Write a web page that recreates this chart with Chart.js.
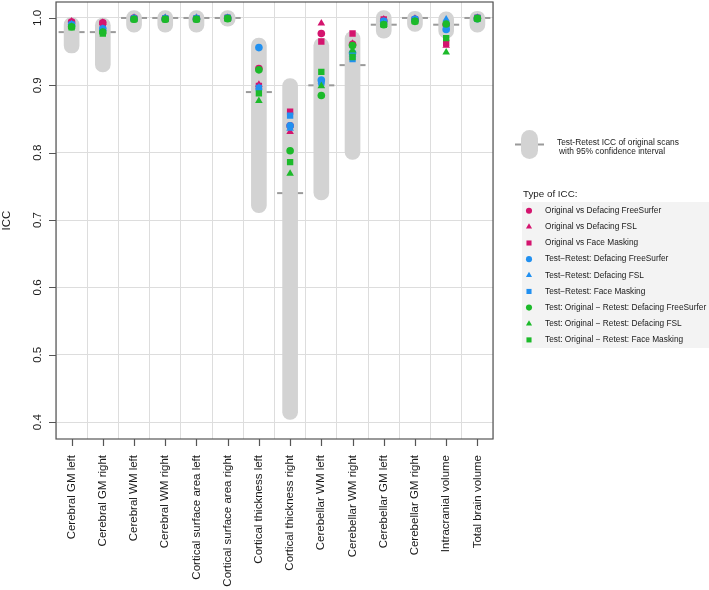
<!DOCTYPE html>
<html>
<head>
<meta charset="utf-8">
<script src="https://cdn.jsdelivr.net/npm/chart.js@4.4.1/dist/chart.umd.min.js"></script>
<style>
  html, body { margin: 0; padding: 0; background: #fff; }
  #wrap { width: 709px; height: 590px; }
</style>
</head>
<body>
<div id="wrap"><canvas id="chart" width="709" height="590"></canvas></div>
<script>
const categories = [
	"Cerebral GM left", "Cerebral GM right", "Cerebral WM left", "Cerebral WM right",
	"Cortical surface area left", "Cortical surface area right", "Cortical thickness left",
	"Cortical thickness right", "Cerebellar WM left", "Cerebellar WM right",
	"Cerebellar GM left", "Cerebellar GM right", "Intracranial volume", "Total brain volume",
];

// test-retest ICC of original scans and its 95% CI
const retestIcc = [0.979, 0.979, 1.0, 1.0, 1.0, 1.0, 0.890, 0.740, 0.900, 0.930, 0.990, 1.0, 0.990, 1.0];
const ciLow = [0.959, 0.931, 0.990, 0.990, 0.990, 0.999, 0.722, 0.415, 0.741, 0.801, 0.981, 0.991, 0.981, 0.990];
const ciHigh = [0.990, 0.989, 1.000, 1.000, 1.000, 1.000, 0.959, 0.899, 0.959, 0.969, 1.000, 0.999, 0.998, 0.999];

const origDefFS = [0.994, 0.993, 1.0, 0.999, 0.999, 1.0, 0.925, 0.840, 0.977, 0.961, 0.996, 0.998, 0.990, 1.0];
const origDefFSL = [0.995, 0.993, 1.0, 1.0, 1.0, 1.0, 0.901, 0.831, 0.992, 0.962, 0.998, 0.999, 0.959, 1.0];
const origMask = [0.993, 0.992, 0.999, 0.999, 0.999, 1.0, 0.899, 0.861, 0.965, 0.977, 0.998, 0.998, 0.963, 1.0];
const trDefFS = [0.990, 0.984, 0.999, 0.999, 0.999, 1.0, 0.956, 0.840, 0.908, 0.948, 0.995, 0.998, 0.983, 0.999];
const trDefFSL = [0.991, 0.984, 1.0, 1.0, 1.0, 1.0, 0.897, 0.836, 0.906, 0.946, 0.995, 0.998, 0.998, 1.0];
const trMask = [0.990, 0.983, 0.999, 0.999, 0.999, 1.0, 0.896, 0.855, 0.904, 0.939, 0.995, 0.998, 0.988, 1.0];
const crossDefFS = [0.987, 0.979, 0.998, 0.998, 0.998, 0.999, 0.923, 0.803, 0.885, 0.959, 0.990, 0.995, 0.991, 0.999];
const crossDefFSL = [0.987, 0.979, 0.998, 0.998, 0.998, 0.999, 0.877, 0.769, 0.899, 0.952, 0.990, 0.995, 0.949, 0.999];
const crossMask = [0.986, 0.977, 0.998, 0.998, 0.998, 0.999, 0.888, 0.786, 0.920, 0.942, 0.990, 0.995, 0.970, 0.999];

const yTicks = [0.4, 0.5, 0.6, 0.7, 0.8, 0.9, 1.0];

const MAGENTA = "#d4146e";
const BLUE = "#2190f0";
const GREEN = "#1cba2a";
const FONT = "'Liberation Sans', Arial, Helvetica, sans-serif";
const capPad = 0.011; // round caps reach past the CI ends

const series = [
	{ label: "Original vs Defacing FreeSurfer", data: origDefFS, color: MAGENTA, style: "circle", order: 9 },
	{ label: "Original vs Defacing FSL", data: origDefFSL, color: MAGENTA, style: "triangle", order: 8 },
	{ label: "Original vs Face Masking", data: origMask, color: MAGENTA, style: "rect", order: 7 },
	{ label: "Test\u2212Retest: Defacing FreeSurfer", data: trDefFS, color: BLUE, style: "circle", order: 6 },
	{ label: "Test\u2212Retest: Defacing FSL", data: trDefFSL, color: BLUE, style: "triangle", order: 5 },
	{ label: "Test\u2212Retest: Face Masking", data: trMask, color: BLUE, style: "rect", order: 4 },
	{ label: "Test: Original \u2212 Retest: Defacing FreeSurfer", data: crossDefFS, color: GREEN, style: "circle", order: 3 },
	{ label: "Test: Original \u2212 Retest: Defacing FSL", data: crossDefFSL, color: GREEN, style: "triangle", order: 2 },
	{ label: "Test: Original \u2212 Retest: Face Masking", data: crossMask, color: GREEN, style: "rect", order: 1 },
];

function radiusFor(style) {
	if (style === "rect") return 4.5;
	if (style === "triangle") return 4.4;
	return 3.8;
}

const pointSets = series.map((s) => ({
	type: "line",
	label: s.label,
	data: s.data,
	showLine: false,
	pointStyle: s.style,
	pointRadius: radiusFor(s.style),
	pointBackgroundColor: s.color,
	pointBorderColor: s.color,
	pointBorderWidth: 0,
	order: s.order,
}));

const extras = {
	id: "extras",
	afterDraw(chart) {
		const ctx = chart.ctx;
		const area = chart.chartArea;
		const xs = chart.scales.x;
		const ys = chart.scales.y;
		ctx.save();

		// box round the plot
		ctx.strokeStyle = "#555";
		ctx.lineWidth = 1.2;
		ctx.strokeRect(area.left, area.top, area.right - area.left, area.bottom - area.top);

		// tick marks
		ctx.beginPath();
		categories.forEach((c, i) => {
			const x = Math.round(xs.getPixelForValue(i)) + 0.5;
			ctx.moveTo(x, area.bottom);
			ctx.lineTo(x, area.bottom + 7);
		});
		yTicks.forEach((v) => {
			const y = Math.round(ys.getPixelForValue(v)) + 0.5;
			ctx.moveTo(area.left, y);
			ctx.lineTo(area.left - 7, y);
		});
		ctx.stroke();

		// y tick labels, written upright like the x labels
		ctx.fillStyle = "#1a1a1a";
		ctx.font = "11.5px " + FONT;
		ctx.textAlign = "center";
		ctx.textBaseline = "alphabetic";
		yTicks.forEach((v) => {
			ctx.save();
			ctx.translate(40.5, ys.getPixelForValue(v));
			ctx.rotate(-Math.PI / 2);
			ctx.fillText(v.toFixed(1), 0, 0);
			ctx.restore();
		});

		// legend: CI capsule
		ctx.fillStyle = "#d3d3d3";
		ctx.beginPath();
		ctx.roundRect(521, 130, 17, 29, 8.5);
		ctx.fill();
		ctx.strokeStyle = "#9a9a9a";
		ctx.lineWidth = 2;
		ctx.beginPath();
		ctx.moveTo(515, 144.5);
		ctx.lineTo(521, 144.5);
		ctx.moveTo(538, 144.5);
		ctx.lineTo(544, 144.5);
		ctx.stroke();
		ctx.fillStyle = "#1a1a1a";
		ctx.textAlign = "left";
		ctx.textBaseline = "middle";
		ctx.font = "8.4px " + FONT;
		ctx.fillText("Test-Retest ICC of original scans", 557, 143);
		ctx.fillText("with 95% confidence interval", 559, 152);

		// legend: ICC types
		ctx.font = "9.8px " + FONT;
		ctx.fillText("Type of ICC:", 523, 194);
		ctx.fillStyle = "#f3f3f3";
		ctx.fillRect(522, 202, 187, 146);
		ctx.font = "8.3px " + FONT;
		series.forEach((s, i) => {
			const y = 210.7 + i * 16.15;
			ctx.fillStyle = s.color;
			Chart.helpers.drawPoint(ctx, { pointStyle: s.style, radius: radiusFor(s.style) * 0.8, rotation: 0, borderWidth: 0 }, 529, y);
			ctx.fillStyle = "#1a1a1a";
			ctx.fillText(s.label, 545, y);
		});
		ctx.restore();
	},
};

const ctx = document.getElementById("chart").getContext("2d");
const chart = new Chart(ctx, {
	type: "bar",
	data: {
		labels: categories,
		datasets: [
			{
				type: "line",
				label: "Test-Retest ICC",
				data: retestIcc,
				showLine: false,
				pointStyle: "line",
				pointRadius: 13,
				pointBorderWidth: 2,
				pointBorderColor: "#9a9a9a",
				order: 100,
			},
			{
				type: "bar",
				label: "95% CI",
				data: ciLow.map((lo, i) => [lo - capPad, ciHigh[i] + capPad]),
				backgroundColor: "#d3d3d3",
				borderRadius: 9,
				borderSkipped: false,
				barThickness: 15,
				order: 50,
			},
			...pointSets,
		],
	},
	options: {
		responsive: false,
		animation: false,
		layout: { autoPadding: false, padding: { top: 2, right: 216, left: 0, bottom: 0 } },
		plugins: {
			legend: { display: false },
			tooltip: { enabled: false },
		},
		scales: {
			x: {
				offset: true,
				grid: { offset: true, color: "#dddddd", drawTicks: false },
				border: { display: false },
				ticks: {
					minRotation: 90,
					maxRotation: 90,
					autoSkip: false,
					padding: 16,
					color: "#1a1a1a",
					font: { family: FONT, size: 11.5 },
				},
				afterFit: (s) => { s.height = 151; },
			},
			y: {
				min: 0.375,
				max: 1.0237,
				afterBuildTicks: (s) => { s.ticks = yTicks.map((v) => ({ value: v })); },
				grid: { color: "#dddddd", drawTicks: false },
				border: { display: false },
				ticks: { display: false },
				title: {
					display: true,
					text: "ICC",
					color: "#1a1a1a",
					padding: { top: 0, bottom: 0 },
					font: { family: FONT, size: 11.5 },
				},
				afterFit: (s) => { s.width = 56; },
			},
		},
	},
	plugins: [extras],
});
</script>
</body>
</html>
